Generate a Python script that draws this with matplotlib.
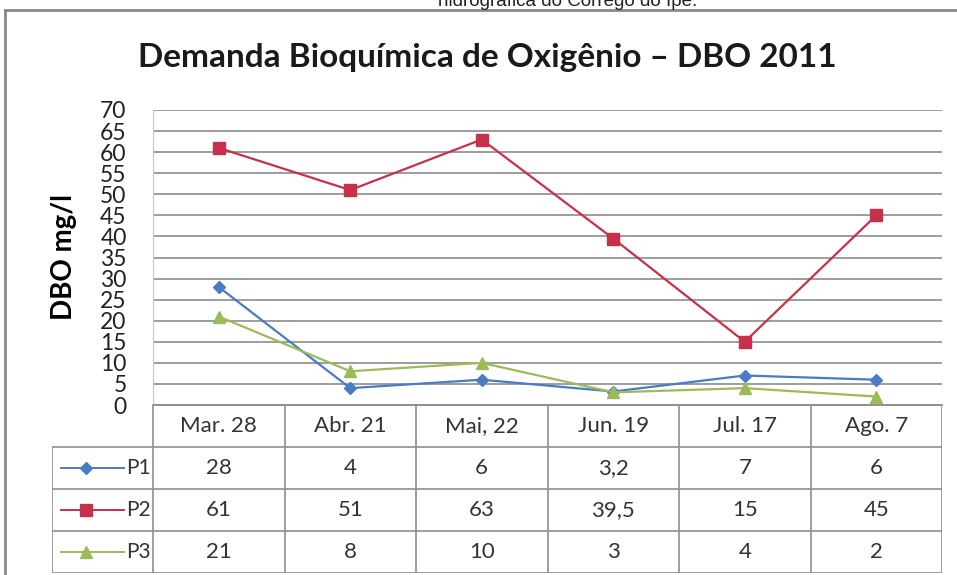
import numpy as np
import matplotlib.pyplot as plt

# Dados
datas = ['Mar. 28', 'Abr. 21', 'Mai, 22', 'Jun. 19', 'Jul. 17', 'Ago. 7']
p1 = [28, 4, 6, 3.2, 7, 6]
p2 = [61, 51, 63, 39.5, 15, 45]
p3 = [21, 8, 10, 3, 4, 2]
rotulos_p1 = ['28', '4', '6', '3,2', '7', '6']
rotulos_p2 = ['61', '51', '63', '39,5', '15', '45']
rotulos_p3 = ['21', '8', '10', '3', '4', '2']

series = [
    ('P1', p1, rotulos_p1, '#4A7BC4', 'D', 6),
    ('P2', p2, rotulos_p2, '#C8304A', 's', 8),
    ('P3', p3, rotulos_p3, '#9BBB59', '^', 8),
]

plt.rcParams['font.family'] = ['Lato', 'DejaVu Sans']

W, H = 957, 575
fig = plt.figure(figsize=(W / 100, H / 100), dpi=100)

# legenda ocupa 101 px, colunas de dados 131.5 px
col_w = 131.5
leg_w = 101 / col_w
x0, x1 = 153, 942

# legenda de cima (cortada, como no original)
fig.text(568 / W, 1 - 6 / H, 'hidrográfica do Córrego do Ipê.', ha='center',
         va='baseline', fontsize=13.5, family='Liberation Sans', color='#222222')

# moldura do gráfico
fig.add_artist(plt.Line2D([5 / W, 1], [1 - 10 / H, 1 - 10 / H], color='#8a8a8a', lw=2))
fig.add_artist(plt.Line2D([5 / W, 5 / W], [0, 1 - 10 / H], color='#8a8a8a', lw=2))

# area do gráfico
ax = fig.add_axes([x0 / W, 1 - 405 / H, (x1 - x0) / W, (405 - 110) / H])
x = np.arange(len(datas)) + 0.5
for nome, vals, _, cor, mk, ms in series:
    ax.plot(x, vals, color=cor, lw=1.6, marker=mk, markersize=ms, zorder=3)
ax.set_xlim(0, len(datas))
ax.set_ylim(0, 70)
ax.set_yticks(np.arange(0, 71, 5))
ax.set_xticks([])
ax.grid(axis='y', color='#8c8c8c', lw=1.2)
ax.tick_params(axis='y', length=0, pad=19, labelsize=16.5, colors='#222222')
for s in ['top', 'right']:
    ax.spines[s].set_visible(False)
ax.spines['left'].set_color('#c8c8c8')
ax.spines['bottom'].set_color('#8c8c8c')
ax.spines['bottom'].set_linewidth(1.2)
ax.set_ylabel('DBO mg/l', fontsize=20, fontweight='bold')
ax.yaxis.set_label_coords(-(153 - 64) / (x1 - x0), 0.5)
ax.yaxis.label.set_va('center')

fig.text(487 / W, 1 - 58 / H, 'Demanda Bioquímica de Oxigênio – DBO 2011',
         ha='center', va='center', fontsize=24, fontweight='bold', color='#1a1a1a')

# tabela de dados
tb = fig.add_axes([52 / W, 1 - 573 / H, (x1 - 52) / W, (573 - 405) / H])
tb.set_xlim(-leg_w, len(datas))
tb.set_ylim(0, 4)
tb.axis('off')
cor_linha = '#8f8f8f'
# linhas horizontais
tb.plot([0, len(datas)], [4, 4], color=cor_linha, lw=1.2)
for yy in [3, 2, 1, 0]:
    tb.plot([-leg_w, len(datas)], [yy, yy], color=cor_linha, lw=1.2)
# linhas verticais
tb.plot([-leg_w, -leg_w], [0, 3], color=cor_linha, lw=1.2)
for xx in range(len(datas) + 1):
    tb.plot([xx, xx], [0, 4], color=cor_linha, lw=1.2)

for i, d in enumerate(datas):
    tb.text(i + 0.5, 3.5, d, ha='center', va='center', fontsize=16, color='#333333')

for r, (nome, vals, rot, cor, mk, ms) in enumerate(series):
    yy = 2.5 - r
    tb.plot([-leg_w + 0.07, -leg_w + 0.55], [yy, yy], color=cor, lw=1.4)
    tb.plot([-leg_w + 0.26], [yy], color=cor, marker=mk, markersize=ms)
    tb.text(-leg_w + 0.56, yy, nome, ha='left', va='center', fontsize=15, color='#333333')
    for i, t in enumerate(rot):
        tb.text(i + 0.5, yy, t, ha='center', va='center', fontsize=16, color='#333333')

fig.savefig('out.png', dpi=100)
